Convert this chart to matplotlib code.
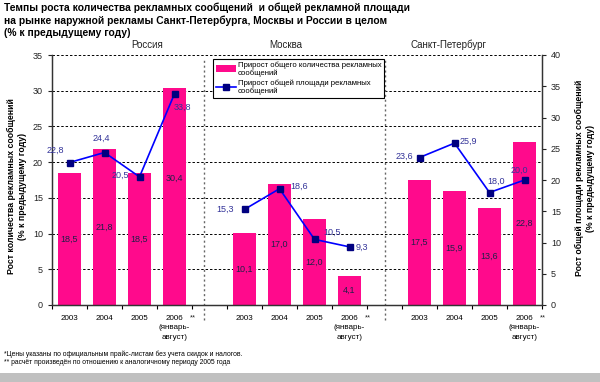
import numpy as np
import matplotlib
matplotlib.use("Agg")
import matplotlib.pyplot as plt
import matplotlib.lines as mlines
import matplotlib.patches as mpatches
import matplotlib.transforms as mtransforms

plt.rcParams["font.family"] = ["Liberation Sans", "DejaVu Sans"]

REGIONS = ["Россия", "Москва", "Санкт-Петербург"]
YEARS = ["2003", "2004", "2005", "2006"]
COUNT_GROWTH = [[18.5, 21.8, 18.5, 30.4],
                [10.1, 17.0, 12.0, 4.1],
                [17.5, 15.9, 13.6, 22.8]]
AREA_GROWTH = [[22.8, 24.4, 20.5, 33.8],
               [15.3, 18.6, 10.5, 9.3],
               [23.6, 25.9, 18.0, 20.0]]

TITLE = ("Темпы роста количества рекламных сообщений  и общей рекламной площади\n"
         "на рынке наружной рекламы Санкт-Петербурга, Москвы и России в целом\n"
         "(% к предыдущему году)")
FOOTNOTES = ["*Цены указаны по официальным прайс-листам без учета скидок и налогов.",
             "** расчёт произведён по отношению к аналогичному периоду 2005 года"]
LEG_BAR = "Прирост общего количества рекламных\nсообщений"
LEG_LINE = "Прирост общей площади рекламных\nсообщений"

BAR_COLOR = "#FF0A8C"
LINE_COLOR = "#0000FF"
MARK_COLOR = "#000080"
LINE_LBL = "#333399"
BAR_LBL = "#202048"

# label offsets (points) for line values, per region/year
LINE_OFF = [[(-10, 9), (-2, 10), (-14, 1), (6, -10)],
            [(-14, 0), (14, 2), (13, 5), (9, 0)],
            [(-11, 1), (10, 1), (5, 8), (-4, 7)]]
BAR_OFF = [[0, 0, 0, 13], [0, 0, 0, 0], [0, 0, 0, 0]]
REGION_SHIFT = [0.71, -0.31, -0.66]

fig = plt.figure(figsize=(6.0, 3.82), dpi=100)
ax = fig.add_axes([52 / 600, 1 - 305 / 382, 490 / 600, 250 / 382])
ax2 = ax.twinx()

ax.set_xlim(-0.5, 13.5)
ax.set_ylim(0, 35)
ax2.set_ylim(0, 40)

for yv in range(5, 36, 5):
    ax.axhline(yv, color="black", lw=0.7, ls=(0, (2.5, 2)), zorder=0.5)

blend = mtransforms.blended_transform_factory(ax.transData, ax.transAxes)

positions = []
for gi in range(len(REGIONS)):
    xs = np.arange(4) + gi * 5
    positions.extend(xs)
    ax.bar(xs, COUNT_GROWTH[gi], width=0.63, color=BAR_COLOR, zorder=2)
    for xi, v, dy in zip(xs, COUNT_GROWTH[gi], BAR_OFF[gi]):
        ax.annotate(f"{v:.1f}".replace(".", ","), (xi, v / 2), xytext=(0, dy),
                    textcoords="offset points", ha="center", va="center",
                    fontsize=6.5, color=BAR_LBL, zorder=5)
    ax2.plot(xs, AREA_GROWTH[gi], color=LINE_COLOR, lw=1.2, marker="s", ms=4.5,
             mfc=MARK_COLOR, mec=MARK_COLOR, zorder=4)
    for xi, v, off in zip(xs, AREA_GROWTH[gi], LINE_OFF[gi]):
        ax2.annotate(f"{v:.1f}".replace(".", ","), (xi, v), xytext=off,
                     textcoords="offset points", ha="center", va="center",
                     fontsize=6.5, color=LINE_LBL, zorder=5)
    ax.text(xs.mean() + REGION_SHIFT[gi], 1.04, REGIONS[gi], transform=blend,
            ha="center", va="center", fontsize=7, color="#222222")

# group separators
for sx in [3.85, 9.0]:
    ax.plot([sx, sx], [-0.06, 0.98], transform=blend, color="#666666", lw=1.0,
            ls=(0, (1.5, 2)), clip_on=False, zorder=1)

# x ticks
ax.set_xticks(positions)
ax.set_xticklabels(["2003", "2004", "2005", "2006\n(январь-\nавгуст)"] * 3,
                   fontsize=5.8, va="top", linespacing=1.5)
ax.tick_params(axis="x", which="major", length=0, pad=7)
ax.set_xticks(np.arange(-0.5, 14, 1.0), minor=True)
ax.tick_params(axis="x", which="minor", length=3, width=0.8, direction="out")
for gi in range(3):
    ax.annotate("**", (gi * 5 + 3, 0), xytext=(13, -9), textcoords="offset points",
                ha="center", va="center", fontsize=5.5, color="#222222")

ax.set_yticks(range(0, 36, 5))
ax.tick_params(axis="y", labelsize=6.5, length=3, width=0.8, colors="#222222")
ax2.set_yticks(range(0, 41, 5))
ax2.tick_params(axis="y", labelsize=6.5, length=3, width=0.8, colors="#222222")

for a in (ax, ax2):
    a.spines["top"].set_visible(False)
    for s in ("left", "right", "bottom"):
        a.spines[s].set_linewidth(0.9)
        a.spines[s].set_color("#333333")

fig.text(17 / 600, 1 - 186 / 382, "Рост количества рекламных сообщений\n(% к предыдущему году)",
         rotation=90, ha="center", va="center", fontsize=6.3, fontweight="bold",
         linespacing=1.4)
fig.text(585 / 600, 1 - 178 / 382, "Рост общей площади рекламных сообщений\n(% к предыдущему году)",
         rotation=90, ha="center", va="center", fontsize=6.3, fontweight="bold",
         linespacing=1.4)

fig.text(4 / 600, 1 - 2 / 382, TITLE, ha="left", va="top", fontsize=7.4,
         fontweight="bold", linespacing=1.3)

fig.text(4 / 600, 1 - 354 / 382, FOOTNOTES[0], ha="left", va="center", fontsize=4.9)
fig.text(4 / 600, 1 - 363 / 382, FOOTNOTES[1], ha="left", va="center", fontsize=4.9)

# grey strip at the bottom
fig.patches.append(mpatches.Rectangle((0, 0), 1, 9 / 382, transform=fig.transFigure,
                                      facecolor="#C0C0C0", edgecolor="none"))

h_bar = mpatches.Patch(facecolor=BAR_COLOR, edgecolor="none")
h_line = mlines.Line2D([], [], color=LINE_COLOR, lw=1.2, marker="s", ms=4,
                       mfc=MARK_COLOR, mec=MARK_COLOR)
leg = ax2.legend([h_bar, h_line], [LEG_BAR, LEG_LINE], loc="upper left",
                 bbox_to_anchor=(0.329, 0.985), fontsize=5.6, frameon=True,
                 fancybox=False, edgecolor="black", framealpha=1, handlelength=2.6,
                 handleheight=1.0, borderpad=0.3, labelspacing=0.3, handletextpad=0.3,
                 borderaxespad=0)
leg.get_frame().set_linewidth(0.8)
leg.set_zorder(10)

fig.savefig("out.png", dpi=100, facecolor="white")
